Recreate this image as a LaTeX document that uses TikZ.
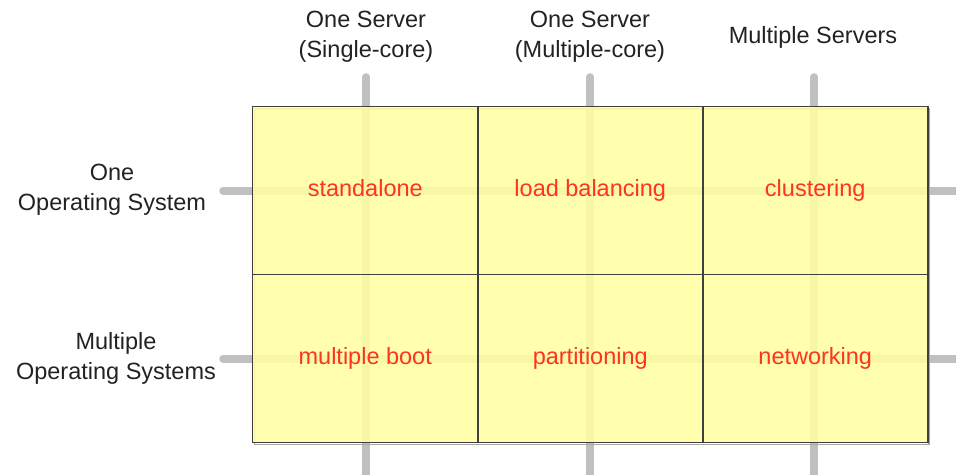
\documentclass[tikz,border=0pt]{standalone}
\usepackage{fontspec}
\setmainfont{Liberation Sans}
\definecolor{cellfill}{HTML}{FFFFA2}
\definecolor{cellred}{HTML}{FF3322}
\definecolor{axisgrey}{HTML}{C0C0C0}
\definecolor{labelgrey}{HTML}{222222}
\tikzset{
  axis/.style={draw=axisgrey, line width=7.5pt},
  cell/.style={rectangle, minimum width=225pt, minimum height=167pt,
    fill=cellfill, fill opacity=0.88, text opacity=1, inner sep=0pt,
    text height=17pt, text depth=5pt,
    text=cellred, font=\fontsize{23.5}{30}\selectfont},
  cellborder/.style={draw=black!75, line width=1.1pt},
  heading/.style={align=center, text=labelgrey, inner sep=0pt,
    font=\fontsize{23.5}{30}\selectfont},
}
\begin{document}
\begin{tikzpicture}[x=1pt, y=-1pt]
\useasboundingbox (0,0) rectangle (956,474);
\clip (0,0) rectangle (956,474);

% axis ends
\coordinate (c1top) at (366,77);  \coordinate (c1bot) at (366,490);
\coordinate (c2top) at (590,77);  \coordinate (c2bot) at (590,490);
\coordinate (c3top) at (814,77);  \coordinate (c3bot) at (814,490);
\coordinate (r1left) at (223,191); \coordinate (r1right) at (975,191);
\coordinate (r2left) at (223,359); \coordinate (r2right) at (975,359);

% grey axes behind the grid
\foreach \a/\b in {c1top/c1bot, c2top/c2bot, c3top/c3bot, r1left/r1right, r2left/r2right}
  \draw[axis, line cap=round] (\a) -- (\b);

% soft shadow along the outer frame
\draw[draw=black!35, line width=1.6pt] (254.5,109) rectangle (929,444.5);

% the six cells
\node[cell] (standalone) at (365.25,190.5) {standalone};
\node[cell] (loadbal)    at (590.25,190.5) {load balancing};
\node[cell] (cluster)    at (815.25,190.5) {clustering};
\node[cell] (multiboot)  at (365.25,358.5) {multiple boot};
\node[cell] (partition)  at (590.25,358.5) {partitioning};
\node[cell] (network)    at (815.25,358.5) {networking};

\foreach \n in {standalone, loadbal, cluster, multiboot, partition, network}
  \draw[cellborder] (\n.north west) rectangle (\n.south east);

% column headings
\node[heading] (colone)   at (366,37) {One Server\\(Single-core)};
\node[heading] (coltwo)   at (590,37) {One Server\\(Multiple-core)};
\node[heading] (colthree) at (813,37) {Multiple Servers};

% row headings
\node[heading] (rowone) at (112,190) {One\\Operating System};
\node[heading] (rowtwo) at (116,358) {Multiple\\Operating Systems};
\end{tikzpicture}
\end{document}
